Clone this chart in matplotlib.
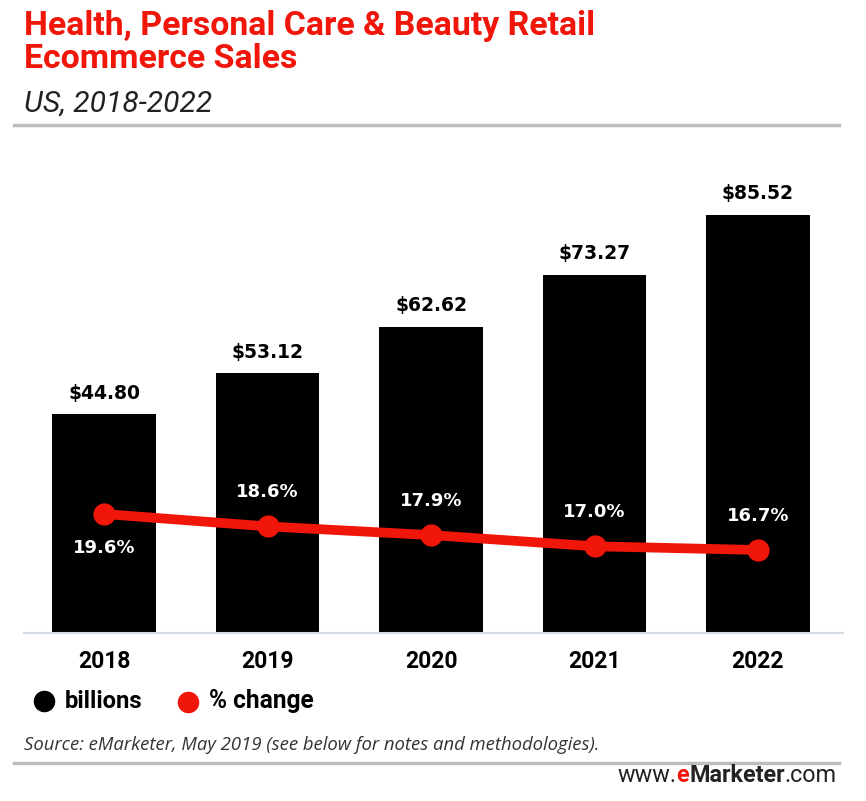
import matplotlib
matplotlib.use("Agg")
import matplotlib.pyplot as plt
from matplotlib import font_manager as fm

years = ["2018", "2019", "2020", "2021", "2022"]
sales = [44.80, 53.12, 62.62, 73.27, 85.52]
pct_change = [19.6, 18.6, 17.9, 17.0, 16.7]
value_labels = ["$44.80", "$53.12", "$62.62", "$73.27", "$85.52"]
pct_labels = ["19.6%", "18.6%", "17.9%", "17.0%", "16.7%"]

avail = {f.name for f in fm.fontManager.ttflist}
def pick(*names):
    for n in names:
        if n in avail:
            return n
    return "DejaVu Sans"
TITLE_F = pick("Roboto", "Liberation Sans", "DejaVu Sans")
TEXT_F = pick("Open Sans", "Noto Sans", "DejaVu Sans")
NUM_F = "DejaVu Sans"

W, H = 866, 801
fig = plt.figure(figsize=(W / 100, H / 100), dpi=100)
fig.canvas.draw()
R = fig.canvas.get_renderer()

def fx(px):
    return px / W
def fy(py):
    return 1 - py / H

def fit_text(x_px, y_px, s, target_w, size0=14, **kw):
    t = fig.text(fx(x_px), fy(y_px), s, fontsize=size0, **kw)
    w = t.get_window_extent(renderer=R).width
    if w > 0:
        t.set_fontsize(size0 * target_w / w)
    return t

RED = "#f0160a"

# Axes placement: baseline at y=633, top at y=170 (pixels from top)
ax_left, ax_right = 24, 843
ax_bot, ax_top = 633, 170
ax = fig.add_axes([fx(ax_left), fy(ax_bot), (ax_right - ax_left) / W, (ax_bot - ax_top) / H])
pxu = 4.89
ax.set_ylim(0, (ax_bot - ax_top) / pxu)
x = list(range(len(years)))
ax.bar(x, sales, width=0.635, color="black", zorder=2)
ax.set_xlim(-0.49, 4.52)
for s in ax.spines.values():
    s.set_visible(False)
ax.spines["bottom"].set_visible(True)
ax.spines["bottom"].set_color("#d5dce6")
ax.spines["bottom"].set_linewidth(1.5)
ax.set_yticks([])
ax.set_xticks(x)
ax.set_xticklabels(years, fontsize=16.5, fontweight="bold", family=TITLE_F)
ax.tick_params(axis="x", length=0, pad=12)

for xi, v, lab in zip(x, sales, value_labels):
    ax.annotate(lab, (xi, v), xytext=(0, 15), textcoords="offset points",
                ha="center", va="center", fontsize=13.5, fontweight="bold",
                family=NUM_F, color="black")

# Secondary axis for % change
ax2 = ax.twinx()
k = (550.0 - 514.0) / (19.6 - 16.7)
y0 = 514.0 + 19.6 * k
ax2.set_ylim((y0 - ax_bot) / k, (y0 - ax_top) / k)
ax2.plot(x, pct_change, color=RED, linewidth=7, marker="o", markersize=15,
         solid_capstyle="round", zorder=3)
ax2.set_yticks([])
for s in ax2.spines.values():
    s.set_visible(False)
for i, (xi, v, lab) in enumerate(zip(x, pct_change, pct_labels)):
    dy = -24.5 if i == 0 else 24.5
    ax2.annotate(lab, (xi, v), xytext=(0, dy), textcoords="offset points",
                 ha="center", va="center", fontsize=13, fontweight="bold",
                 family=NUM_F, color="white")

# Titles
fit_text(24, 35, "Health, Personal Care & Beauty Retail", 574, color=RED,
         fontweight="bold", family=TITLE_F, va="baseline")
t2 = fig.text(fx(24), fy(68), "Ecommerce Sales", color=RED, fontweight="bold",
              family=TITLE_F, va="baseline")
t2.set_fontsize(fig.texts[-2].get_fontsize())
fit_text(24, 112, "US, 2018-2022", 189, color="#222222", fontstyle="italic",
         family=TITLE_F, va="baseline")
fig.add_artist(plt.Line2D([fx(14), fx(839)], [fy(125), fy(125)], color="#bdbdbd", linewidth=2.5))

# Legend
fig.add_artist(plt.Line2D([fx(44)], [fy(701)], marker="o", markersize=14.5,
                          color="black", linestyle="none"))
fit_text(65, 701, "billions", 78, fontweight="bold", family=TITLE_F,
         va="center", color="black")
fig.add_artist(plt.Line2D([fx(188)], [fy(702)], marker="o", markersize=14.5,
                          color=RED, linestyle="none"))
fit_text(209, 701, "% change", 105, fontweight="bold", family=TITLE_F,
         va="center", color="black")

# Source and footer
fit_text(24, 745, "Source: eMarketer, May 2019 (see below for notes and methodologies).", 578,
         fontstyle="italic", family=TEXT_F, va="center", color="#333333")
fig.add_artist(plt.Line2D([fx(14), fx(839)], [fy(763), fy(763)], color="#bdbdbd", linewidth=2.5))

parts = [("www.", "normal", "#222222"), ("e", "bold", RED), ("Marketer", "bold", "#222222"), (".com", "normal", "#222222")]
fs = 15
total = 0
tmp = []
for s, w, c in parts:
    t = fig.text(0, 0, s, fontsize=fs, fontweight=w, family=TITLE_F)
    total += t.get_window_extent(renderer=R).width
    tmp.append(t)
for t in tmp:
    t.remove()
fs = fs * 221 / total
right = 837
for s, w, c in reversed(parts):
    t = fig.text(fx(right), fy(776), s, fontsize=fs, fontweight=w, family=TITLE_F,
                 color=c, ha="right", va="center")
    right -= t.get_window_extent(renderer=R).width
fig.savefig("out.png", dpi=100)
